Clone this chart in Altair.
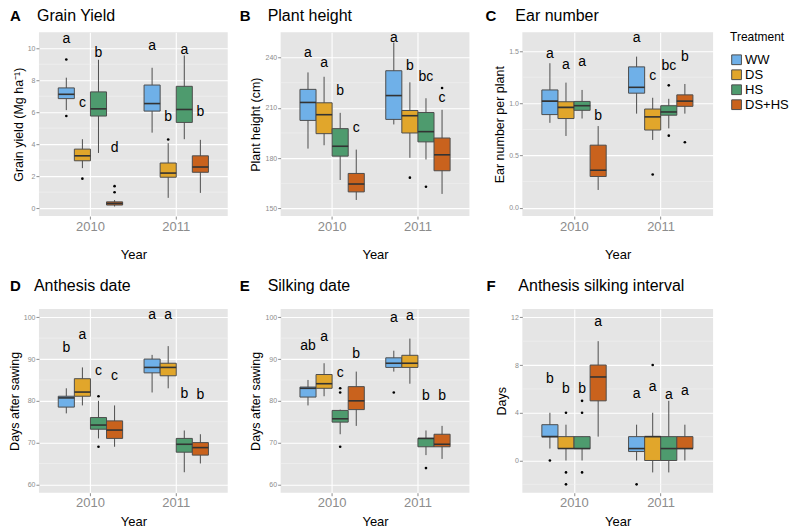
import altair as alt
import pandas as pd

FONT = "Liberation Sans"
TREAT = ["WW", "DS", "HS", "DS+HS"]
COLORS = ["#6FB0E8", "#E1A62B", "#4E9B6E", "#C9621D"]
YEAR = ["2010"] * 4 + ["2011"] * 4
TRT = TREAT * 2

# ---- A Grain yield ----
A_lo = [6.13, 2.50, 3.45, 0.10, 4.72, 0.64, 4.31, 0.95]
A_q1 = [6.85, 2.96, 5.76, 0.19, 6.07, 1.93, 5.36, 2.24]
A_med = [7.12, 3.27, 6.21, 0.29, 6.54, 2.19, 6.17, 2.57]
A_q3 = [7.52, 3.69, 7.27, 0.39, 7.70, 2.82, 7.62, 3.27]
A_hi = [8.16, 4.31, 9.28, 0.50, 8.78, 4.06, 9.55, 4.27]
A_let = ["a", "c", "b", "d", "a", "b", "a", "b"]
A_ly = [10.58, 6.6, 9.69, 3.75, 10.17, 5.71, 9.9, 6.02]
A_oy = ["2010", "2010", "2010", "2010", "2010", "2011"]
A_ot = ["WW", "WW", "DS", "DS+HS", "DS+HS", "DS"]
A_ov = [9.30, 5.76, 1.84, 1.37, 0.99, 4.29]

# ---- B Plant height ----
B_lo = [185.7, 187.7, 167.0, 155.1, 200.1, 180.2, 179.2, 158.7]
B_q1 = [202.5, 194.6, 181.2, 159.9, 203.1, 195.0, 189.7, 172.5]
B_med = [213.2, 205.9, 187.1, 164.6, 217.3, 205.3, 195.8, 182.0]
B_q3 = [221.0, 213.0, 197.6, 170.9, 232.1, 208.4, 207.2, 192.0]
B_hi = [231.1, 228.5, 207.0, 185.1, 248.9, 225.2, 215.7, 208.8]
B_let = ["a", "a", "b", "c", "a", "b", "bc", "c"]
B_ly = [242.8, 236.8, 219.9, 198.2, 251.4, 235.1, 228.2, 215.9]
B_oy = ["2011", "2011", "2011"]
B_ot = ["DS", "HS", "DS+HS"]
B_ov = [168.4, 163.0, 221.8]

# ---- C Ear number ----
C_lo = [0.813, 0.687, 0.854, 0.170, 0.901, 0.649, 0.760, 0.901]
C_q1 = [0.892, 0.854, 0.933, 0.299, 1.097, 0.744, 0.886, 0.971]
C_med = [1.021, 0.961, 0.977, 0.359, 1.153, 0.870, 0.917, 1.021]
C_q3 = [1.128, 1.015, 1.018, 0.599, 1.349, 0.945, 0.977, 1.081]
C_hi = [1.384, 1.198, 1.128, 0.782, 1.447, 1.053, 1.043, 1.185]
C_let = ["a", "a", "a", "b", "a", "c", "bc", "b"]
C_ly = [1.469, 1.365, 1.40, 0.876, 1.626, 1.257, 1.358, 1.447]
C_oy = ["2011", "2011", "2011", "2011"]
C_ot = ["DS", "HS", "HS", "DS+HS"]
C_ov = [0.318, 1.172, 0.690, 0.627]

# ---- D Anthesis date ----
D_lo = [77.0, 78.9, 71.0, 69.0, 82.0, 83.0, 62.9, 65.0]
D_q1 = [78.5, 81.1, 73.2, 71.0, 86.7, 86.0, 67.7, 67.0]
D_med = [80.7, 82.1, 74.2, 73.0, 88.0, 88.0, 69.6, 68.8]
D_q3 = [81.1, 85.3, 76.0, 75.2, 90.0, 89.0, 71.0, 70.0]
D_hi = [83.0, 88.0, 80.0, 78.9, 91.0, 93.1, 72.9, 72.0]
D_let = ["b", "a", "c", "c", "a", "a", "b", "b"]
D_ly = [92.7, 95.7, 87.1, 85.9, 100.6, 100.6, 81.7, 81.3]
D_oy = ["2010", "2010"]
D_ot = ["HS", "HS"]
D_ov = [81.1, 69.0]

# ---- E Silking date ----
E_lo = [78.9, 81.1, 72.0, 74.0, 87.0, 84.1, 67.0, 66.1]
E_q1 = [80.9, 83.0, 74.9, 77.9, 88.0, 88.0, 69.0, 69.0]
E_med = [83.0, 84.1, 75.7, 80.0, 89.0, 89.0, 71.0, 69.6]
E_q3 = [83.3, 86.3, 77.7, 83.4, 90.3, 90.9, 71.0, 72.0]
E_hi = [85.0, 89.0, 77.9, 87.0, 92.0, 94.9, 72.9, 74.0]
E_let = ["ab", "a", "c", "b", "a", "a", "b", "b"]
E_ly = [93.1, 95.4, 86.7, 91.1, 99.8, 100.2, 81.1, 81.1]
E_oy = ["2010", "2010", "2010", "2011", "2011"]
E_ot = ["HS", "HS", "HS", "WW", "HS"]
E_ov = [83.0, 82.0, 69.0, 82.0, 63.9]

# ---- F Anthesis silking interval ----
F_lo = [1, 0, 0, 2, 0, -1, -1, 0]
F_q1 = [2, 1, 1, 5, 0.75, 0, 0, 1]
F_med = [2, 1, 1, 7, 1, 2, 1, 1]
F_q3 = [3, 2, 2, 8, 2, 2, 2, 2]
F_hi = [4, 3, 2, 10, 3, 4, 5, 3]
F_let = ["b", "b", "b", "a", "a", "a", "a", "a"]
F_ly = [6.8, 6.0, 6.0, 11.6, 5.6, 6.2, 5.5, 5.8]
F_oy = ["2010", "2010", "2010", "2010", "2010", "2010", "2010", "2011", "2011"]
F_ot = ["WW", "DS", "DS", "DS", "HS", "HS", "HS", "WW", "DS"]
F_ov = [0, 4, -1, -2, 5, 4, -1, -2, 8]

W = [189, 189, 191]
H = 184
SP_COL = 53
SP_ROW = 93

LEGEND = alt.Legend(
    title="Treatment", orient="none",
    legendX=W[0] + SP_COL + W[1] + SP_COL + W[2] + 17, legendY=0,
    titleFontSize=12, titleFontWeight="normal", titleColor="black", titleFont=FONT,
    titlePadding=9, labelFontSize=13, labelColor="black", labelFont=FONT,
    symbolType="square", symbolSize=95, symbolStrokeColor="#4d4d4d",
    symbolStrokeWidth=1, symbolOpacity=1, rowPadding=0, labelOffset=2,
)


def panel(letter, title, ytitle, dom, major, minor, fmt, lo, q1, med, q3, hi,
          let, ly, oy, ot, ov, width, ty, lx, tx, xtp):
    df = pd.DataFrame({"Year": YEAR, "Treatment": TRT, "lo": lo, "q1": q1,
                       "med": med, "q3": q3, "hi": hi, "let": let, "ly": ly})
    boxw = width / 2.2 * 0.75 / 4
    xax = alt.Axis(title="Year", titleFont=FONT, titleFontSize=13, titleFontWeight="normal",
                   titleColor="black", titlePadding=xtp, labelFont=FONT, labelFontSize=13,
                   labelColor="#8C8C8C", labelAngle=0, labelPadding=1, tickSize=3,
                   tickColor="#8C8C8C", domain=False, grid=True, gridColor="white",
                   gridWidth=1.1, bandPosition=0.5)
    xs = alt.X("Year:N", scale=alt.Scale(paddingInner=0.25, paddingOuter=0.225), axis=xax)
    xo = alt.XOffset("Treatment:N", sort=TREAT,
                     scale=alt.Scale(domain=TREAT, paddingInner=0, paddingOuter=0))
    ys = alt.Scale(domain=dom, nice=False, zero=False)
    yax = alt.Axis(title=ytitle, values=major, format=fmt, titleFont=FONT, titleFontSize=12.5,
                   titleFontWeight="normal", titleColor="black", titlePadding=2,
                   labelFont=FONT, labelFontSize=7, labelColor="#8C8C8C", labelPadding=1,
                   tickSize=3, tickColor="#8C8C8C", domain=False, grid=True,
                   gridColor="white", gridWidth=1.1)
    base = alt.Chart(df).encode(x=xs, xOffset=xo)
    minor_ch = alt.Chart(pd.DataFrame({"v": minor})).mark_rule(
        color="#F2F2F2", strokeWidth=0.6).encode(y=alt.Y("v:Q", scale=ys, axis=yax))
    whisk = base.mark_rule(color="#4d4d4d", strokeWidth=1).encode(
        y=alt.Y("lo:Q", scale=ys, axis=yax), y2="hi:Q")
    box = base.mark_bar(stroke="#4d4d4d", strokeWidth=1, opacity=1).encode(
        y=alt.Y("q1:Q", scale=ys, axis=yax), y2="q3:Q",
        color=alt.Color("Treatment:N", sort=TREAT,
                        scale=alt.Scale(domain=TREAT, range=COLORS), legend=LEGEND))
    medl = base.mark_tick(color="#333333", thickness=1.6, size=boxw, opacity=1).encode(
        y=alt.Y("med:Q", scale=ys, axis=yax))
    odf = pd.DataFrame({"Year": oy, "Treatment": ot, "v": ov})
    outl = alt.Chart(odf).mark_circle(color="black", size=7, opacity=1).encode(
        x=xs, xOffset=xo, y=alt.Y("v:Q", scale=ys, axis=yax))
    txt = base.mark_text(font=FONT, fontSize=14, color="black", baseline="middle").encode(
        y=alt.Y("ly:Q", scale=ys, axis=yax), text="let:N")
    lab = alt.Chart(pd.DataFrame({"t": [letter]})).mark_text(
        font=FONT, fontSize=15, fontWeight="bold", align="left", baseline="alphabetic",
        color="black").encode(x=alt.value(lx), y=alt.value(ty), text="t:N")
    ttl = alt.Chart(pd.DataFrame({"t": [title]})).mark_text(
        font=FONT, fontSize=16, align="left", baseline="alphabetic",
        color="black").encode(x=alt.value(tx), y=alt.value(ty), text="t:N")
    return alt.layer(minor_ch, whisk, box, medl, outl, txt, lab, ttl).properties(
        width=width, height=H)


pA = panel("A", "Grain Yield", "Grain yield (Mg ha⁻¹)", [-0.5, 11.0], [0, 2, 4, 6, 8, 10],
           [1, 3, 5, 7, 9], "d", A_lo, A_q1, A_med, A_q3, A_hi, A_let, A_ly,
           A_oy, A_ot, A_ov, W[0], -11, -29, -2, 15)
pB = panel("B", "Plant height", "Plant height (cm)", [145.5, 255], [150, 180, 210, 240],
           [165, 195, 225], "d", B_lo, B_q1, B_med, B_q3, B_hi, B_let, B_ly,
           B_oy, B_ot, B_ov, W[1], -11, -41, -13, 15)
pC = panel("C", "Ear number", "Ear number per plant", [-0.08, 1.68], [0, 0.5, 1.0, 1.5],
           [0.25, 0.75, 1.25], ".1f", C_lo, C_q1, C_med, C_q3, C_hi, C_let, C_ly,
           C_oy, C_ot, C_ov, W[2], -11, -37, -7, 15)
pD = panel("D", "Anthesis date", "Days after sawing", [58, 102], [60, 70, 80, 90, 100],
           [65, 75, 85, 95], "d", D_lo, D_q1, D_med, D_q3, D_hi, D_let, D_ly,
           D_oy, D_ot, D_ov, W[0], -18, -29, -5, 6)
pE = panel("E", "Silking date", "Days after sawing", [58, 102], [60, 70, 80, 90, 100],
           [65, 75, 85, 95], "d", E_lo, E_q1, E_med, E_q3, E_hi, E_let, E_ly,
           E_oy, E_ot, E_ov, W[1], -18, -41, -13, 6)
pF = panel("F", "Anthesis silking interval", "Days", [-2.7, 12.7], [0, 4, 8, 12],
           [-2, 2, 6, 10], "d", F_lo, F_q1, F_med, F_q3, F_hi, F_let, F_ly,
           F_oy, F_ot, F_ov, W[2], -18, -36, -4, 6)

chart = alt.concat(
    pA, pB, pC, pD, pE, pF, columns=3,
    spacing=alt.RowColnumber(row=SP_ROW, column=SP_COL),
    bounds="flush", align="each", padding=0,
).configure(font=FONT).configure_view(strokeWidth=0, fill="#E5E5E5")

chart.save("out.html", embed_options={"renderer": "svg", "actions": False})
